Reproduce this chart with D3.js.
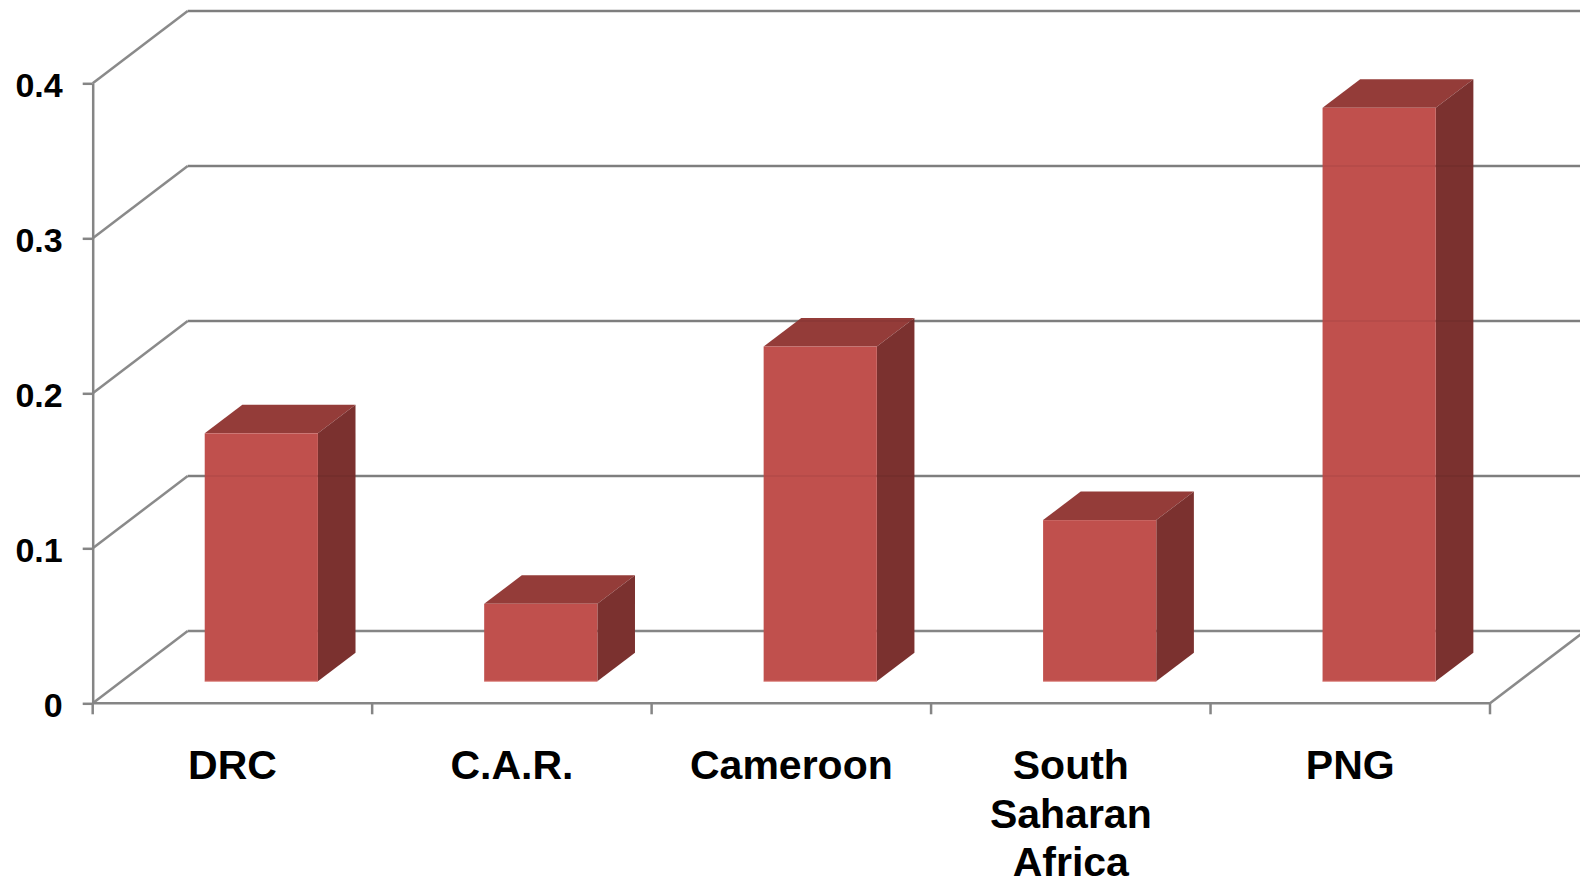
<!DOCTYPE html>
<html>
<head>
<meta charset="utf-8">
<script src="https://cdn.jsdelivr.net/npm/d3@7"></script>
<style>
  html, body { margin: 0; padding: 0; background: #ffffff; }
  svg { display: block; }
  text { font-family: "Liberation Sans", Arial, sans-serif; font-weight: bold; fill: #000; }
</style>
</head>
<body>
<svg id="chart" width="1580" height="883"></svg>
<script>
// Categories and values
const categories = ["DRC", "C.A.R.", "Cameroon", "South Saharan Africa", "PNG"];
const categoryLines = [["DRC"], ["C.A.R."], ["Cameroon"], ["South", "Saharan", "Africa"], ["PNG"]];
const values = [0.16, 0.05, 0.216, 0.104, 0.37];
const yTicks = [0, 0.1, 0.2, 0.3, 0.4];
const yTickLabels = ["0", "0.1", "0.2", "0.3", "0.4"];

const svg = d3.select("#chart");

// Oblique 3D projection: depth vector of the floor
const depthX = 95, depthY = -72.3;
const barDepth0 = 0.304, barDepth1 = 0.70;
const barWidthRatio = 0.405;

const x = d3.scaleBand().domain(categories).range([92.7, 1490]).padding(0);
const y = d3.scaleLinear().domain([0, 0.4]).range([703.3, 83.3]);

const gridColor = "#858585";
const gridWidth = 2.5;
const colFront = "#C0504D", colTop = "#943C39", colSide = "#7B312F";

const x0 = x.range()[0], x1 = x.range()[1];
const xEdge = 1600;

// Back wall gridlines
const gBack = svg.append("g");
gBack.selectAll("line.back").data(yTicks).join("line")
  .attr("x1", x0 + depthX).attr("x2", xEdge)
  .attr("y1", d => y(d) + depthY).attr("y2", d => y(d) + depthY)
  .attr("stroke", gridColor).attr("stroke-width", gridWidth);

// Side wall gridlines (diagonals)
gBack.selectAll("line.side").data(yTicks).join("line")
  .attr("x1", x0).attr("y1", d => y(d))
  .attr("x2", x0 + depthX).attr("y2", d => y(d) + depthY)
  .attr("stroke", "#8a8a8a").attr("stroke-width", gridWidth);

// Floor front edge and right edge
gBack.append("line")
  .attr("x1", x0).attr("x2", x1).attr("y1", y(0)).attr("y2", y(0))
  .attr("stroke", gridColor).attr("stroke-width", gridWidth);
gBack.append("line")
  .attr("x1", x1).attr("y1", y(0)).attr("x2", x1 + depthX).attr("y2", y(0) + depthY)
  .attr("stroke", "#8a8a8a").attr("stroke-width", gridWidth);

// Bars
const data = categories.map((c, i) => ({ c, v: values[i] }));
const bw = x.bandwidth() * barWidthRatio;
const gBars = svg.append("g");
data.forEach(d => {
  const fx = x(d.c) + (x.bandwidth() - bw) / 2 + barDepth0 * depthX;
  const fy0 = y(0) + barDepth0 * depthY;
  const fyT = y(d.v) + barDepth0 * depthY;
  const ddx = (barDepth1 - barDepth0) * depthX;
  const ddy = (barDepth1 - barDepth0) * depthY;
  const g = gBars.append("g");
  // top face
  g.append("path")
    .attr("d", `M${fx},${fyT} L${fx + ddx},${fyT + ddy} L${fx + bw + ddx},${fyT + ddy} L${fx + bw},${fyT} Z`)
    .attr("fill", colTop);
  // side face
  g.append("path")
    .attr("d", `M${fx + bw},${fyT} L${fx + bw + ddx},${fyT + ddy} L${fx + bw + ddx},${fy0 + ddy} L${fx + bw},${fy0} Z`)
    .attr("fill", colSide);
  // front face
  g.append("rect")
    .attr("x", fx).attr("y", fyT).attr("width", bw).attr("height", fy0 - fyT)
    .attr("fill", colFront);
  // light bottom edge of the front face
  g.append("line")
    .attr("x1", fx).attr("x2", fx + bw).attr("y1", fy0).attr("y2", fy0)
    .attr("stroke", "#e0908c").attr("stroke-width", 1);
});

// Faint gridlines visible through the bars
svg.append("g").selectAll("line").data(yTicks.slice(1)).join("line")
  .attr("x1", x0 + depthX).attr("x2", xEdge)
  .attr("y1", d => y(d) + depthY).attr("y2", d => y(d) + depthY)
  .attr("stroke", "#000").attr("stroke-opacity", 0.05).attr("stroke-width", 2);

// Y axis
const yAxis = d3.axisLeft(y)
  .tickValues(yTicks)
  .tickFormat((d, i) => yTickLabels[i])
  .tickSize(10).tickSizeOuter(0).tickPadding(20);
const gy = svg.append("g").attr("transform", `translate(${x0},0)`).call(yAxis);
gy.select(".domain").attr("stroke", gridColor).attr("stroke-width", gridWidth);
gy.selectAll(".tick line").attr("stroke", gridColor).attr("stroke-width", gridWidth);
gy.selectAll(".tick text")
  .style("font-family", "'Liberation Sans', Arial, sans-serif")
  .style("font-weight", "bold").style("font-size", "34px")
  .attr("fill", "#000").attr("dy", "0.38em");

// X axis: tick marks at band edges
const edges = categories.map(c => x(c)).concat([x1]);
svg.append("g").selectAll("line").data(edges).join("line")
  .attr("x1", d => d).attr("x2", d => d)
  .attr("y1", y(0)).attr("y2", y(0) + 11)
  .attr("stroke", gridColor).attr("stroke-width", gridWidth);

// X axis labels centered in each band
const xAxis = d3.axisBottom(x).tickSize(0).tickFormat("");
const gx = svg.append("g").attr("transform", `translate(0,${y(0)})`).call(xAxis);
gx.select(".domain").remove();
gx.selectAll(".tick").each(function (d, i) {
  const t = d3.select(this).append("text")
    .attr("text-anchor", "middle")
    .style("font-size", "41px");
  categoryLines[i].forEach((line, j) => {
    t.append("tspan").attr("x", 0).attr("y", 76 + j * 48.5).text(line);
  });
});
</script>
</body>
</html>
